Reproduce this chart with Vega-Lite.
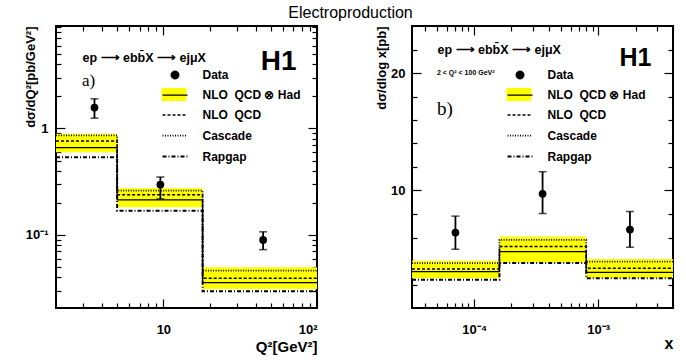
{
  "$schema": "https://vega.github.io/schema/vega-lite/v6.json",
  "padding": {"left": 22, "right": 8, "top": 5, "bottom": 2},
  "background": "white",
  "title": {"text": "Electroproduction", "fontSize": 16, "fontWeight": "normal", "font": "Liberation Sans", "color": "black", "anchor": "middle", "offset": 3},
  "config": {
    "font": "Liberation Sans",
    "view": {"stroke": "black", "strokeWidth": 2},
    "axis": {"grid": false, "domain": false, "tickColor": "black", "tickWidth": 1.2, "labelColor": "black", "labelFont": "Liberation Sans", "labelFontWeight": "bold", "labelFontSize": 13, "titleFont": "Liberation Sans", "titleFontWeight": "bold", "titleColor": "black"},
    "legend": {"labelFont": "Liberation Sans", "labelFontWeight": "bold", "labelFontSize": 12, "labelColor": "black", "padding": 0, "rowPadding": 7}
  },
  "datasets": {
    "bandA": [
      {"lo": 2, "hi": 5, "blo": 0.598, "bhi": 0.894, "band": "NLO\u00a0 QCD ⊗ Had"},
      {"lo": 5, "hi": 18, "blo": 0.182, "bhi": 0.274, "band": "NLO\u00a0 QCD ⊗ Had"},
      {"lo": 18, "hi": 100, "blo": 0.0311, "bhi": 0.0498, "band": "NLO\u00a0 QCD ⊗ Had"}
    ],
    "histA": [
      {"model": "NLO\u00a0 QCD ⊗ Had", "edge": 2, "v": 0.660},
      {"model": "NLO\u00a0 QCD ⊗ Had", "edge": 5, "v": 0.214},
      {"model": "NLO\u00a0 QCD ⊗ Had", "edge": 18, "v": 0.0356},
      {"model": "NLO\u00a0 QCD ⊗ Had", "edge": 100, "v": 0.0356},
      {"model": "NLO\u00a0 QCD", "edge": 2, "v": 0.763},
      {"model": "NLO\u00a0 QCD", "edge": 5, "v": 0.238},
      {"model": "NLO\u00a0 QCD", "edge": 18, "v": 0.0392},
      {"model": "NLO\u00a0 QCD", "edge": 100, "v": 0.0392},
      {"model": "Cascade", "edge": 2, "v": 0.863},
      {"model": "Cascade", "edge": 5, "v": 0.261},
      {"model": "Cascade", "edge": 18, "v": 0.0462},
      {"model": "Cascade", "edge": 100, "v": 0.0462},
      {"model": "Rapgap", "edge": 2, "v": 0.537},
      {"model": "Rapgap", "edge": 5, "v": 0.169},
      {"model": "Rapgap", "edge": 18, "v": 0.0296},
      {"model": "Rapgap", "edge": 100, "v": 0.0296}
    ],
    "dataA": [
      {"q": 3.56, "v": 1.57, "lo": 1.25, "hi": 1.90},
      {"q": 9.56, "v": 0.297, "lo": 0.218, "hi": 0.350},
      {"q": 44.6, "v": 0.0897, "lo": 0.0728, "hi": 0.107}
    ],
    "bandB": [
      {"lo": 0.0000316, "hi": 0.00016, "blo": 2.53, "bhi": 4.03, "band": "NLO\u00a0 QCD ⊗ Had"},
      {"lo": 0.00016, "hi": 0.0008, "blo": 3.90, "bhi": 6.08, "band": "NLO\u00a0 QCD ⊗ Had"},
      {"lo": 0.0008, "hi": 0.004, "blo": 2.56, "bhi": 4.18, "band": "NLO\u00a0 QCD ⊗ Had"}
    ],
    "histB": [
      {"model": "NLO\u00a0 QCD ⊗ Had", "edge": 0.0000316, "v": 3.09},
      {"model": "NLO\u00a0 QCD ⊗ Had", "edge": 0.00016, "v": 4.80},
      {"model": "NLO\u00a0 QCD ⊗ Had", "edge": 0.0008, "v": 3.04},
      {"model": "NLO\u00a0 QCD ⊗ Had", "edge": 0.004, "v": 3.04},
      {"model": "NLO\u00a0 QCD", "edge": 0.0000316, "v": 3.32},
      {"model": "NLO\u00a0 QCD", "edge": 0.00016, "v": 5.23},
      {"model": "NLO\u00a0 QCD", "edge": 0.0008, "v": 3.38},
      {"model": "NLO\u00a0 QCD", "edge": 0.004, "v": 3.38},
      {"model": "Cascade", "edge": 0.0000316, "v": 3.81},
      {"model": "Cascade", "edge": 0.00016, "v": 5.80},
      {"model": "Cascade", "edge": 0.0008, "v": 3.95},
      {"model": "Cascade", "edge": 0.004, "v": 3.95},
      {"model": "Rapgap", "edge": 0.0000316, "v": 2.41},
      {"model": "Rapgap", "edge": 0.00016, "v": 3.84},
      {"model": "Rapgap", "edge": 0.0008, "v": 2.53},
      {"model": "Rapgap", "edge": 0.004, "v": 2.53}
    ],
    "dataB": [
      {"q": 0.0000707, "v": 6.42, "lo": 5.00, "hi": 7.82},
      {"q": 0.000356, "v": 9.72, "lo": 8.04, "hi": 11.6},
      {"q": 0.0018, "v": 6.68, "lo": 5.17, "hi": 8.21}
    ]
  },
  "resolve": {
    "scale": {"x": "independent", "y": "independent", "strokeDash": "independent", "strokeWidth": "independent", "fill": "independent"},
    "legend": {"strokeDash": "independent", "fill": "independent"}
  },
  "spacing": 52,
  "hconcat": [
    {
      "width": 261,
      "height": 282,
      "title": {"text": "a)", "anchor": "start", "frame": "group", "dx": 26, "offset": -65, "font": "Liberation Serif", "fontSize": 17, "fontWeight": "normal", "color": "black"},
      "resolve": {"axis": {"x": "independent", "y": "independent"}},
      "layer": [
        {
          "data": {"name": "bandA"},
          "mark": {"type": "rect"},
          "encoding": {
            "x": {"field": "lo", "type": "quantitative", "scale": {"type": "log", "domain": [2, 100], "nice": false},
              "axis": {"orient": "bottom", "values": [3, 4, 5, 6, 7, 8, 9, 10, 20, 30, 40, 50, 60, 70, 80, 90, 100],
                "labelExpr": "datum.value == 10 ? '10' : datum.value == 100 ? '10²' : ''",
                "tickSize": {"condition": {"test": "datum.value == 10 || datum.value == 100", "value": -9}, "value": -5},
                "labelPadding": 24,
                "title": "Q²[GeV²]", "titleX": 261, "titleY": 38, "titleAlign": "right", "titleBaseline": "middle", "titleFontSize": 15}},
            "x2": {"field": "hi"},
            "y": {"field": "blo", "type": "quantitative", "scale": {"type": "log", "domain": [0.0206, 9.17], "nice": false},
              "axis": {"orient": "left", "values": [0.03, 0.04, 0.05, 0.06, 0.07, 0.08, 0.09, 0.1, 0.2, 0.3, 0.4, 0.5, 0.6, 0.7, 0.8, 0.9, 1, 2, 3, 4, 5, 6, 7, 8, 9],
                "labelExpr": "datum.value == 1 ? '1' : datum.value == 0.1 ? '10⁻¹' : ''",
                "tickSize": {"condition": {"test": "datum.value == 0.1 || datum.value == 1", "value": -9}, "value": -5},
                "labelPadding": 17,
                "title": "dσ/dQ²[pb/GeV²]", "titleX": -26, "titleY": 0, "titleAngle": -90, "titleAlign": "right", "titleBaseline": "middle", "titleFontSize": 13}},
            "y2": {"field": "bhi"},
            "fill": {"field": "band", "type": "nominal", "scale": {"range": ["#ffff00"]},
              "legend": {"orient": "none", "legendX": 106, "legendY": 62, "title": null, "symbolType": "M-2,-1.05H2V1.05H-2Z", "symbolSize": 156, "symbolOffset": 5.5, "labelOffset": 20, "labelExpr": "''", "symbolStrokeWidth": 0, "symbolOpacity": 1}}
          }
        },
        {
          "data": {"name": "histA"},
          "mark": {"type": "line", "interpolate": "step-after", "color": "black"},
          "encoding": {
            "x": {"field": "edge", "type": "quantitative", "scale": {"type": "log", "domain": [2, 100], "nice": false},
              "axis": {"orient": "top", "values": [3, 4, 5, 6, 7, 8, 9, 10, 20, 30, 40, 50, 60, 70, 80, 90, 100], "labels": false,
                "tickSize": {"condition": {"test": "datum.value == 10 || datum.value == 100", "value": -9}, "value": -5},
                "title": "ep ⟶ ebb̄X ⟶ ejμX", "titleX": 26, "titleY": 31, "titleAlign": "left", "titleBaseline": "middle", "titleAngle": 0, "titleFontSize": 12.5}},
            "y": {"field": "v", "type": "quantitative", "scale": {"type": "log", "domain": [0.0206, 9.17], "nice": false},
              "axis": {"orient": "right", "values": [0.03, 0.04, 0.05, 0.06, 0.07, 0.08, 0.09, 0.1, 0.2, 0.3, 0.4, 0.5, 0.6, 0.7, 0.8, 0.9, 1, 2, 3, 4, 5, 6, 7, 8, 9], "labels": false,
                "tickSize": {"condition": {"test": "datum.value == 0.1 || datum.value == 1", "value": -9}, "value": -5},
                "title": "H1", "titleX": -21, "titleY": 43, "titleAlign": "right", "titleBaseline": "alphabetic", "titleAngle": 0, "titleFontSize": 28}},
            "strokeDash": {"field": "model", "type": "nominal",
              "scale": {"domain": ["Data", "NLO\u00a0 QCD ⊗ Had", "NLO\u00a0 QCD", "Cascade", "Rapgap"], "range": [[1, 0], [1, 0], [3, 2], [1, 1.5], [4, 2, 1, 2]]},
              "legend": {"orient": "none", "legendX": 106, "legendY": 42, "title": null, "symbolType": "M-2,0H2", "symbolSize": 156, "symbolStrokeColor": "black", "symbolStrokeWidth": 1.5, "symbolOffset": 5.5, "labelOffset": 20,
                "encode": {"symbols": {"update": {
                  "shape": {"signal": "datum.value === 'Data' ? 'circle' : 'M-2,0H2'"},
                  "size": {"signal": "datum.value === 'Data' ? 64 : 156"},
                  "fill": {"signal": "datum.value === 'Data' ? 'black' : 'transparent'"},
                  "stroke": {"value": "black"},
                  "opacity": {"value": 1},
                  "strokeOpacity": {"value": 1},
                  "strokeWidth": {"signal": "datum.value === 'Data' ? 0 : indexOf(datum.value, 'Had') >= 0 ? 2 : datum.value === 'Cascade' ? 1.2 : 1.5"}
                }}}}},
            "strokeWidth": {"field": "model", "type": "nominal", "scale": {"domain": ["Data", "NLO\u00a0 QCD ⊗ Had", "NLO\u00a0 QCD", "Cascade", "Rapgap"], "range": [1, 2, 1.8, 1.5, 1.5]}, "legend": null}
          }
        },
        {
          "data": {"name": "dataA"},
          "mark": {"type": "errorbar", "ticks": {"size": 8, "thickness": 1.5, "color": "black"}, "thickness": 1.8, "color": "black"},
          "encoding": {
            "x": {"field": "q", "type": "quantitative", "scale": {"type": "log", "domain": [2, 100], "nice": false}, "axis": null},
            "y": {"field": "lo", "type": "quantitative", "scale": {"type": "log", "domain": [0.0206, 9.17], "nice": false}, "axis": null},
            "y2": {"field": "hi"}
          }
        },
        {
          "data": {"name": "dataA"},
          "mark": {"type": "circle", "size": 60, "color": "black", "opacity": 1},
          "encoding": {
            "x": {"field": "q", "type": "quantitative", "scale": {"type": "log", "domain": [2, 100], "nice": false}, "axis": null},
            "y": {"field": "v", "type": "quantitative", "scale": {"type": "log", "domain": [0.0206, 9.17], "nice": false}, "axis": null}
          }
        }
      ]
    },
    {
      "width": 261,
      "height": 282,
      "title": {"text": "2 < Q² < 100 GeV²", "subtitle": "b)", "anchor": "start", "frame": "group", "dx": 25, "offset": -94, "font": "Liberation Sans", "fontSize": 7, "fontWeight": "bold", "color": "black", "subtitleFont": "Liberation Serif", "subtitleFontSize": 19, "subtitleColor": "black", "subtitlePadding": 24},
      "resolve": {"axis": {"x": "independent", "y": "independent"}},
      "layer": [
        {
          "data": {"name": "bandB"},
          "mark": {"type": "rect"},
          "encoding": {
            "x": {"field": "lo", "type": "quantitative", "scale": {"type": "log", "domain": [0.0000316, 0.004], "nice": false},
              "axis": {"orient": "bottom", "values": [0.00004, 0.00005, 0.00006, 0.00007, 0.00008, 0.00009, 0.0001, 0.0002, 0.0003, 0.0004, 0.0005, 0.0006, 0.0007, 0.0008, 0.0009, 0.001, 0.002, 0.003, 0.004],
                "labelExpr": "datum.value == 0.0001 ? '10⁻⁴' : datum.value == 0.001 ? '10⁻³' : ''",
                "tickSize": {"condition": {"test": "datum.value == 0.0001 || datum.value == 0.001", "value": -9}, "value": -5},
                "labelPadding": 24,
                "title": "x", "titleX": 261, "titleY": 35, "titleAlign": "right", "titleBaseline": "middle", "titleFontSize": 16}},
            "x2": {"field": "hi"},
            "y": {"field": "blo", "type": "quantitative", "scale": {"type": "linear", "domain": [0, 24], "nice": false},
              "axis": {"orient": "left", "values": [2, 4, 6, 8, 10, 12, 14, 16, 18, 20, 22],
                "labelExpr": "datum.value == 10 || datum.value == 20 ? datum.label : ''",
                "tickSize": {"condition": {"test": "datum.value == 10 || datum.value == 20", "value": -9}, "value": -5},
                "labelPadding": 16,
                "title": "dσ/dlog x[pb]", "titleX": -31, "titleY": 0, "titleAngle": -90, "titleAlign": "right", "titleBaseline": "middle", "titleFontSize": 13}},
            "y2": {"field": "bhi"},
            "fill": {"field": "band", "type": "nominal", "scale": {"range": ["#ffff00"]},
              "legend": {"orient": "none", "legendX": 95, "legendY": 62, "title": null, "symbolType": "M-2,-1.05H2V1.05H-2Z", "symbolSize": 156, "symbolOffset": 5.5, "labelOffset": 20, "labelExpr": "''", "symbolStrokeWidth": 0, "symbolOpacity": 1}}
          }
        },
        {
          "data": {"name": "histB"},
          "mark": {"type": "line", "interpolate": "step-after", "color": "black"},
          "encoding": {
            "x": {"field": "edge", "type": "quantitative", "scale": {"type": "log", "domain": [0.0000316, 0.004], "nice": false},
              "axis": {"orient": "top", "values": [0.00004, 0.00005, 0.00006, 0.00007, 0.00008, 0.00009, 0.0001, 0.0002, 0.0003, 0.0004, 0.0005, 0.0006, 0.0007, 0.0008, 0.0009, 0.001, 0.002, 0.003, 0.004], "labels": false,
                "tickSize": {"condition": {"test": "datum.value == 0.0001 || datum.value == 0.001", "value": -9}, "value": -5},
                "title": "ep ⟶ ebb̄X ⟶ ejμX", "titleX": 25, "titleY": 23, "titleAlign": "left", "titleBaseline": "middle", "titleAngle": 0, "titleFontSize": 12.5}},
            "y": {"field": "v", "type": "quantitative", "scale": {"type": "linear", "domain": [0, 24], "nice": false},
              "axis": {"orient": "right", "values": [2, 4, 6, 8, 10, 12, 14, 16, 18, 20, 22], "labels": false,
                "tickSize": {"condition": {"test": "datum.value == 10 || datum.value == 20", "value": -9}, "value": -5},
                "title": "H1", "titleX": -22, "titleY": 39, "titleAlign": "right", "titleBaseline": "alphabetic", "titleAngle": 0, "titleFontSize": 25}},
            "strokeDash": {"field": "model", "type": "nominal",
              "scale": {"domain": ["Data", "NLO\u00a0 QCD ⊗ Had", "NLO\u00a0 QCD", "Cascade", "Rapgap"], "range": [[1, 0], [1, 0], [3, 2], [1, 1.5], [4, 2, 1, 2]]},
              "legend": {"orient": "none", "legendX": 95, "legendY": 42, "title": null, "symbolType": "M-2,0H2", "symbolSize": 156, "symbolStrokeColor": "black", "symbolStrokeWidth": 1.5, "symbolOffset": 5.5, "labelOffset": 20,
                "encode": {"symbols": {"update": {
                  "shape": {"signal": "datum.value === 'Data' ? 'circle' : 'M-2,0H2'"},
                  "size": {"signal": "datum.value === 'Data' ? 64 : 156"},
                  "fill": {"signal": "datum.value === 'Data' ? 'black' : 'transparent'"},
                  "stroke": {"value": "black"},
                  "opacity": {"value": 1},
                  "strokeOpacity": {"value": 1},
                  "strokeWidth": {"signal": "datum.value === 'Data' ? 0 : indexOf(datum.value, 'Had') >= 0 ? 2 : datum.value === 'Cascade' ? 1.2 : 1.5"}
                }}}}},
            "strokeWidth": {"field": "model", "type": "nominal", "scale": {"domain": ["Data", "NLO\u00a0 QCD ⊗ Had", "NLO\u00a0 QCD", "Cascade", "Rapgap"], "range": [1, 2, 1.8, 1.5, 1.5]}, "legend": null}
          }
        },
        {
          "data": {"name": "dataB"},
          "mark": {"type": "errorbar", "ticks": {"size": 8, "thickness": 1.5, "color": "black"}, "thickness": 1.8, "color": "black"},
          "encoding": {
            "x": {"field": "q", "type": "quantitative", "scale": {"type": "log", "domain": [0.0000316, 0.004], "nice": false}, "axis": null},
            "y": {"field": "lo", "type": "quantitative", "scale": {"type": "linear", "domain": [0, 24], "nice": false}, "axis": null},
            "y2": {"field": "hi"}
          }
        },
        {
          "data": {"name": "dataB"},
          "mark": {"type": "circle", "size": 60, "color": "black", "opacity": 1},
          "encoding": {
            "x": {"field": "q", "type": "quantitative", "scale": {"type": "log", "domain": [0.0000316, 0.004], "nice": false}, "axis": null},
            "y": {"field": "v", "type": "quantitative", "scale": {"type": "linear", "domain": [0, 24], "nice": false}, "axis": null}
          }
        }
      ]
    }
  ]
}
